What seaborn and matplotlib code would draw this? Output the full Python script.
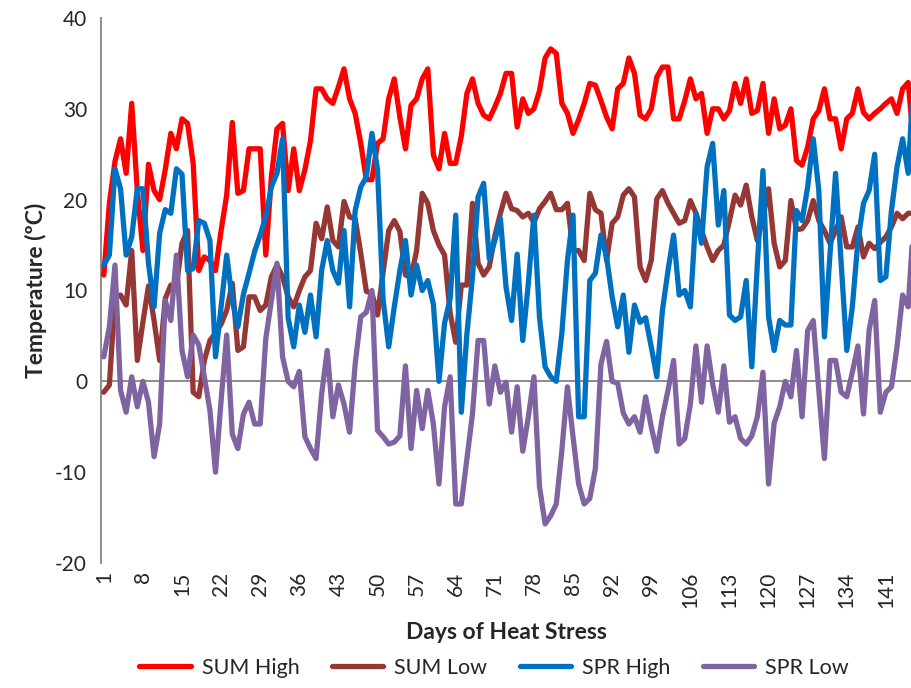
import numpy as np
import pandas as pd
import matplotlib
matplotlib.use("Agg")
import matplotlib.pyplot as plt
from matplotlib.lines import Line2D
import seaborn as sns

# Daily temperatures (ºC) for each heat-stress day
days = list(range(1, 147))

sum_high = [11.7, 19.6, 24.2, 26.7, 22.9, 30.6, 21.0, 14.4, 23.9, 21.0,
            20.0, 23.3, 27.3, 25.6, 28.9, 28.4, 24.0, 12.2, 13.7, 13.3,
            12.2, 16.6, 20.5, 28.5, 20.7, 21.0, 25.6, 25.6, 25.6, 13.9,
            22.5, 27.8, 28.4, 21.0, 25.6, 21.0, 23.3, 26.5, 32.2, 32.2,
            31.1, 30.6, 32.4, 34.4, 31.1, 29.5, 26.2, 22.2, 22.2, 26.2,
            26.7, 31.1, 33.3, 29.1, 25.6, 30.4, 31.1, 33.3, 34.4, 24.9,
            23.4, 27.3, 24.0, 24.0, 27.0, 31.7, 33.3, 30.6, 29.3, 28.9,
            30.2, 31.7, 33.9, 33.9, 28.0, 31.1, 29.5, 30.0, 32.0, 35.6,
            36.6, 36.1, 30.6, 29.5, 27.3, 28.8, 30.6, 32.8, 32.6, 30.9,
            29.1, 27.8, 32.2, 32.8, 35.6, 33.9, 29.3, 28.9, 30.0, 33.5,
            34.6, 34.6, 28.9, 28.9, 30.9, 33.3, 31.1, 31.7, 27.3, 30.0,
            30.0, 28.9, 29.8, 32.8, 30.6, 33.3, 29.5, 29.8, 32.8, 27.3,
            31.1, 27.8, 28.2, 30.0, 24.3, 23.8, 25.8, 28.9, 29.8, 32.2,
            28.9, 28.9, 25.6, 28.9, 29.5, 32.2, 29.6, 28.9, 29.5, 30.0,
            30.6, 31.1, 29.5, 32.2, 32.9, 26.0]

sum_low = [-1.2, -0.4, 9.3, 9.5, 8.4, 14.4, 2.3, 6.5, 10.5, 6.7,
           2.3, 9.1, 10.6, 10.5, 15.2, 16.6, -1.2, -1.7, 2.3, 4.5,
           5.3, 6.3, 7.8, 10.8, 3.4, 3.8, 9.3, 9.3, 7.8, 8.4,
           11.5, 12.8, 11.5, 9.3, 8.2, 10.0, 11.5, 12.2, 17.4, 15.7,
           19.2, 15.5, 14.8, 19.8, 18.1, 17.9, 14.1, 9.9, 9.7, 7.3,
           12.0, 16.6, 17.7, 16.5, 11.7, 11.5, 14.4, 20.7, 19.6, 16.6,
           15.0, 13.9, 7.5, 4.3, 10.6, 10.6, 19.6, 13.0, 11.7, 12.6,
           16.0, 18.5, 20.7, 19.0, 18.8, 18.1, 18.5, 17.5, 19.0, 19.8,
           20.7, 18.9, 18.9, 19.6, 14.4, 14.4, 13.3, 20.7, 18.9, 18.5,
           13.3, 17.4, 18.1, 20.5, 21.2, 20.3, 12.6, 11.1, 13.3, 20.1,
           21.0, 19.6, 18.5, 17.4, 17.7, 19.9, 18.5, 16.6, 14.8, 13.3,
           14.4, 15.0, 17.7, 20.5, 19.4, 21.6, 18.1, 15.5, 18.1, 21.2,
           15.2, 12.6, 13.3, 19.9, 16.7, 16.8, 17.7, 19.9, 17.7, 16.6,
           15.2, 16.6, 18.1, 14.8, 14.8, 17.0, 13.7, 15.2, 14.6, 15.3,
           15.9, 17.0, 18.5, 17.9, 18.5, 18.5]

spr_high = [12.8, 13.9, 23.4, 21.2, 13.9, 15.9, 21.2, 21.2, 13.0, 8.2,
            16.3, 18.9, 18.5, 23.4, 22.8, 12.2, 12.4, 17.7, 17.4, 15.5,
            2.7, 8.2, 13.9, 8.9, 6.0, 9.6, 11.9, 14.3, 16.1, 18.1,
            21.4, 22.9, 26.7, 7.0, 3.8, 8.4, 5.4, 9.5, 4.9, 12.2,
            15.5, 12.2, 10.8, 16.6, 8.2, 18.8, 21.4, 22.5, 27.3, 23.3,
            9.0, 3.8, 8.2, 12.2, 15.5, 9.5, 12.8, 10.0, 11.1, 8.5,
            0.0, 6.4, 9.1, 18.3, -3.4, 5.2, 11.5, 20.3, 21.8, 13.5,
            15.5, 17.9, 10.4, 6.7, 14.0, 4.5, 10.8, 18.3, 7.0, 1.6,
            0.5, 0.0, 5.3, 13.3, 18.3, -3.9, -3.9, 11.1, 11.9, 16.1,
            13.7, 9.3, 6.0, 9.5, 3.2, 8.4, 6.5, 7.0, 3.8, 0.5,
            7.8, 12.2, 16.1, 9.5, 10.0, 8.2, 18.5, 15.2, 23.6, 26.2,
            17.2, 21.0, 7.3, 6.7, 7.1, 11.1, 1.6, 13.0, 23.2, 7.1,
            3.4, 6.7, 6.2, 6.2, 18.8, 17.7, 21.4, 26.7, 21.0, 4.9,
            14.0, 22.9, 13.0, 3.4, 8.2, 15.5, 19.6, 21.0, 25.0, 11.1,
            11.5, 18.8, 23.6, 26.7, 22.9, 34.0]

spr_low = [2.7, 6.0, 12.8, -1.0, -3.4, 0.5, -2.8, 0.0, -2.3, -8.3,
           -4.7, 8.9, 6.7, 13.9, 3.4, 0.5, 5.1, 4.0, 0.5, -3.2,
           -10.0, -2.1, 5.1, -5.8, -7.4, -3.6, -2.3, -4.7, -4.7, 4.7,
           8.9, 13.0, 2.7, 0.0, -0.6, 1.1, -6.1, -7.4, -8.5, -1.4,
           3.4, -3.9, -0.4, -2.5, -5.6, 1.9, 7.1, 7.6, 10.0, -5.4,
           -6.1, -6.9, -6.7, -6.0, 1.7, -7.4, -1.0, -5.2, -1.0, -4.7,
           -11.3, -2.8, 0.5, -13.5, -13.5, -8.5, -3.6, 4.5, 4.5, -2.5,
           1.7, -1.2, -0.1, -5.6, -0.6, -7.7, -3.9, 0.5, -11.6, -15.7,
           -14.8, -13.5, -7.6, -0.6, -6.1, -11.3, -13.5, -12.9, -9.6, 1.9,
           4.4, 0.0, -0.2, -3.5, -4.7, -3.9, -5.6, -1.7, -5.0, -7.7,
           -3.9, -1.0, 2.3, -6.9, -6.3, -2.5, 3.9, -2.3, 3.9, -0.3,
           -3.4, 1.7, -4.5, -3.9, -6.3, -6.9, -6.0, -3.9, 1.0, -11.3,
           -4.6, -2.8, 0.0, -1.7, 3.4, -3.9, 5.6, 6.7, -1.0, -8.5,
           2.3, 2.3, -1.2, -1.7, 1.0, 3.9, -3.6, 5.6, 8.9, -3.4,
           -1.2, -0.6, 3.8, 9.5, 8.2, 18.0]

series_names = ["SUM High", "SUM Low", "SPR High", "SPR Low"]
series_colors = ["#FF0000", "#953735", "#0070C0", "#8064A2"]
tick_days = list(range(1, 142, 7))
y_ticks = [-20, -10, 0, 10, 20, 30, 40]

df = pd.DataFrame({
    "Day": days * 4,
    "Temp": sum_high + sum_low + spr_high + spr_low,
    "Series": np.repeat(series_names, len(days)),
})

sns.set_style("white")
plt.rcParams["font.family"] = ["Lato", "DejaVu Sans"]

fig = plt.figure(figsize=(9.11, 6.88), dpi=100)
ax = fig.add_axes([101 / 911, 1 - 563 / 688, 810 / 911, 545 / 688])

axis_grey = "#8C8C8C"
ax.axhline(0, color=axis_grey, lw=1.4, zorder=1)

sns.lineplot(data=df, x="Day", y="Temp", hue="Series", hue_order=series_names,
             palette=series_colors, linewidth=3.8, ax=ax, legend=False,
             solid_joinstyle="round", solid_capstyle="round", zorder=3)

ax.set_xlim(0.5, 145.5)
ax.set_ylim(-20, 40)
ax.set_yticks(y_ticks)
ax.set_yticklabels([str(v) for v in y_ticks], fontsize=15)
ax.set_xticks(tick_days)
ax.set_xticklabels([str(d) for d in tick_days], rotation=90, fontsize=15)

for side in ["top", "right", "bottom"]:
    ax.spines[side].set_visible(False)
ax.spines["left"].set_color(axis_grey)
ax.spines["left"].set_linewidth(1.4)
ax.tick_params(axis="y", direction="out", length=6, width=1.4, color=axis_grey, pad=4)
ax.tick_params(axis="x", length=0, pad=6)

ax.set_xlabel("Days of Heat Stress", fontsize=16.5, fontweight="bold", labelpad=10)
ax.set_ylabel("Temperature (ºC)", fontsize=16.5, fontweight="bold", labelpad=6)

handles = [Line2D([0], [0], color=c, lw=3.8) for c in series_colors]
fig.legend(handles, series_names, loc="center", bbox_to_anchor=(494 / 911, 1 - 668 / 688),
           ncol=4, frameon=False, fontsize=15.5, handlelength=2.4,
           handletextpad=0.5, columnspacing=1.5)

fig.savefig("out.png", dpi=100)
